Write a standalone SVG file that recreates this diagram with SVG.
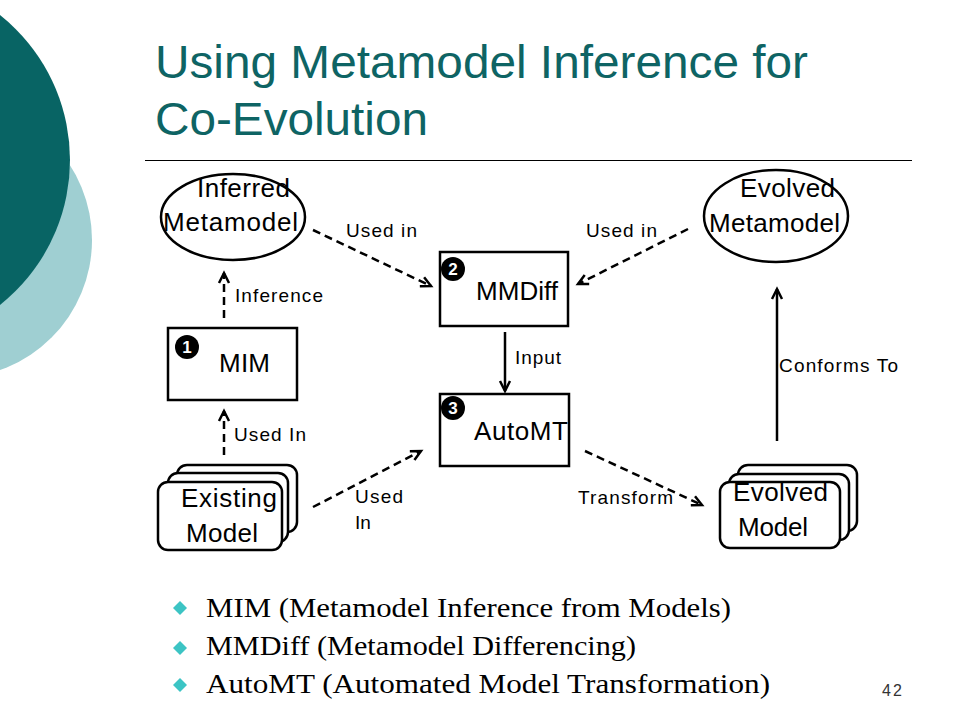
<svg xmlns="http://www.w3.org/2000/svg" width="960" height="720" viewBox="0 0 960 720">
<style>
.node{fill:#fff;stroke:#000;stroke-width:2.5}
.nt{font-family:"Liberation Sans",Arial,sans-serif;font-size:26px;fill:#000}
.lbl{font-family:"Liberation Sans",Arial,sans-serif;font-size:19px;fill:#000}
.title{font-family:"Liberation Sans",Arial,sans-serif;font-size:47px;fill:#0E6464}
.bul{font-family:"Liberation Serif","Times New Roman",serif;font-size:27px;fill:#000}
.dash{fill:none;stroke:#000;stroke-width:2.5;stroke-dasharray:8 5}
.solid{fill:none;stroke:#000;stroke-width:2.5}
.badge{fill:#000}
.bt{font-family:"Liberation Sans",Arial,sans-serif;font-size:17px;font-weight:bold;fill:#fff;text-anchor:middle}
.dia{fill:#3CC4C4}
</style>
<defs>
<marker id="ah" markerUnits="userSpaceOnUse" markerWidth="14" markerHeight="14" refX="11" refY="6" orient="auto" viewBox="0 0 14 12">
<path d="M1,1 L11,6 L1,11" fill="none" stroke="#000" stroke-width="2.5"/>
</marker>
</defs>
<rect width="960" height="720" fill="#fff"/>
<g id="background">
<circle cx="-46" cy="240" r="138" fill="#9FCFD2"/>
<circle cx="-115" cy="160" r="185" fill="#086464"/>
</g>
<g id="title">
<text class="title" x="155" y="78" textLength="653" lengthAdjust="spacingAndGlyphs">Using Metamodel Inference for</text>
<text class="title" x="155" y="135" textLength="273" lengthAdjust="spacingAndGlyphs">Co-Evolution</text>
<line x1="145" y1="160.5" x2="912" y2="160.5" stroke="#000" stroke-width="1.2"/>
</g>
<g id="connectors">
<line class="dash" x1="224" y1="318" x2="224" y2="273" marker-end="url(#ah)"/>
<line class="dash" x1="313" y1="230" x2="431" y2="286" marker-end="url(#ah)"/>
<line class="dash" x1="688" y1="229" x2="578" y2="284" marker-end="url(#ah)"/>
<line class="solid" x1="505" y1="332" x2="505" y2="391" marker-end="url(#ah)"/>
<line class="dash" x1="224" y1="455" x2="224" y2="411" marker-end="url(#ah)"/>
<line class="dash" x1="313" y1="507" x2="421" y2="451" marker-end="url(#ah)"/>
<line class="dash" x1="585" y1="451" x2="702" y2="505" marker-end="url(#ah)"/>
<line class="solid" x1="777" y1="441" x2="777" y2="289" marker-end="url(#ah)"/>
<text class="lbl" x="235" y="302" textLength="88">Inference</text>
<text class="lbl" x="346" y="237" textLength="71">Used in</text>
<text class="lbl" x="586" y="237" textLength="71">Used in</text>
<text class="lbl" x="515" y="364" textLength="46">Input</text>
<text class="lbl" x="234" y="441" textLength="72">Used In</text>
<text class="lbl" x="355" y="503" textLength="48">Used</text>
<text class="lbl" x="355" y="529">In</text>
<text class="lbl" x="578" y="504" textLength="95">Transform</text>
<text class="lbl" x="779" y="372" textLength="119">Conforms To</text>
</g>
<g id="inferred-metamodel">
<ellipse class="node" cx="233" cy="217" rx="72" ry="43"/>
<text class="nt" x="197" y="197" textLength="93">Inferred</text>
<text class="nt" x="163" y="231" textLength="135">Metamodel</text>
</g>
<g id="evolved-metamodel">
<ellipse class="node" cx="776" cy="216" rx="72" ry="46"/>
<text class="nt" x="740" y="197" textLength="95">Evolved</text>
<text class="nt" x="709" y="232" textLength="131">Metamodel</text>
</g>
<g id="mim">
<rect class="node" x="168" y="328" width="129" height="72"/>
<circle class="badge" cx="187" cy="347" r="12"/>
<text class="bt" x="187" y="353">1</text>
<text class="nt" x="219" y="372" textLength="51">MIM</text>
</g>
<g id="mmdiff">
<rect class="node" x="440" y="252" width="128" height="74"/>
<circle class="badge" cx="453" cy="269" r="12"/>
<text class="bt" x="453" y="275">2</text>
<text class="nt" x="476" y="300" textLength="82">MMDiff</text>
</g>
<g id="automt">
<rect class="node" x="440" y="394" width="129" height="72"/>
<circle class="badge" cx="453" cy="408" r="12"/>
<text class="bt" x="453" y="414">3</text>
<text class="nt" x="474" y="440" textLength="94">AutoMT</text>
</g>
<g id="existing-model">
<rect class="node" x="177" y="465" width="120" height="67" rx="10"/>
<rect class="node" x="168" y="473" width="120" height="69" rx="10"/>
<rect class="node" x="158" y="482" width="124" height="68" rx="10"/>
<text class="nt" x="181" y="507" textLength="96">Existing</text>
<text class="nt" x="186" y="542" textLength="72">Model</text>
</g>
<g id="evolved-model">
<rect class="node" x="738" y="465" width="119" height="66" rx="10"/>
<rect class="node" x="729" y="474" width="120" height="66" rx="10"/>
<rect class="node" x="720" y="482" width="120" height="66" rx="10"/>
<text class="nt" x="733" y="501" textLength="95">Evolved</text>
<text class="nt" x="738" y="536" textLength="70">Model</text>
</g>
<g id="bullets">
<path class="dia" d="M180,601 L187,608 L180,615 L173,608 Z"/>
<path class="dia" d="M180,641 L187,648 L180,655 L173,648 Z"/>
<path class="dia" d="M180,678 L187,685 L180,692 L173,685 Z"/>
<text class="bul" x="206" y="617" textLength="525" lengthAdjust="spacingAndGlyphs">MIM (Metamodel Inference from Models)</text>
<text class="bul" x="206" y="655" textLength="430" lengthAdjust="spacingAndGlyphs">MMDiff (Metamodel Differencing)</text>
<text class="bul" x="206" y="693" textLength="564" lengthAdjust="spacingAndGlyphs">AutoMT (Automated Model Transformation)</text>
</g>
<text x="882" y="696" font-family="Liberation Sans, Arial, sans-serif" font-size="16" fill="#333" textLength="20">42</text>
</svg>
